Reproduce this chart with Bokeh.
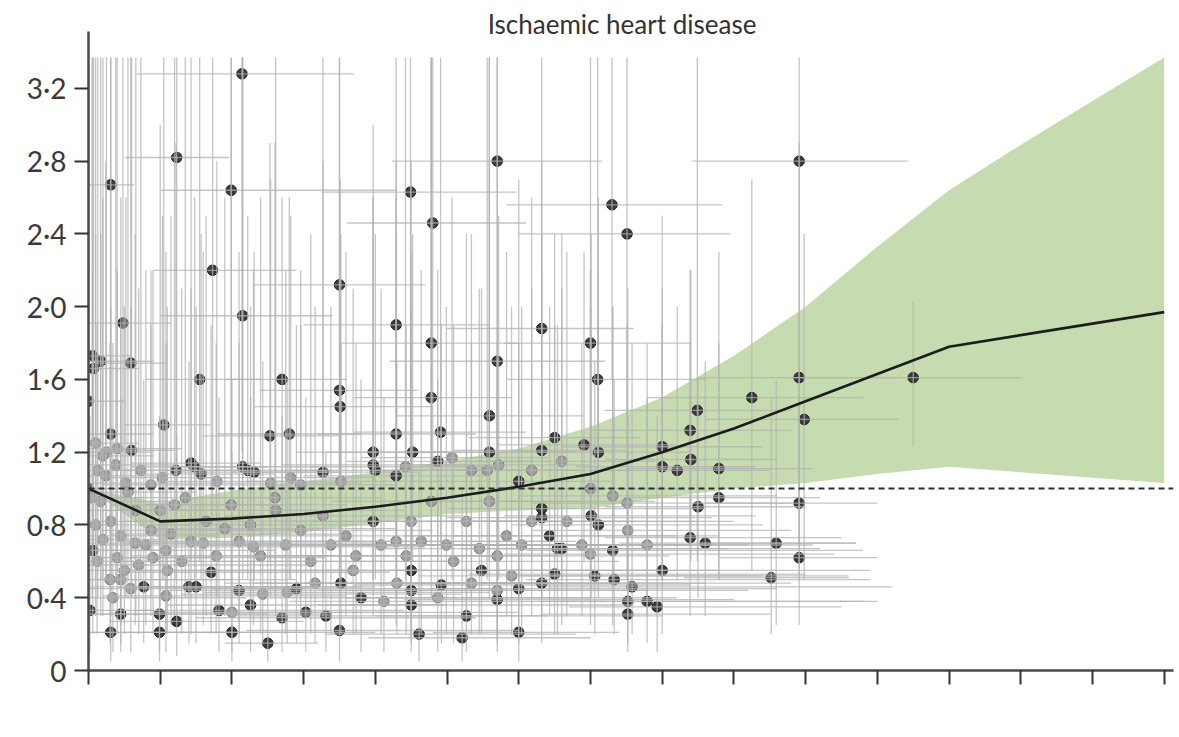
from bokeh.plotting import figure
from bokeh.models import Range1d, FixedTicker, CustomJSTickFormatter, Span, ColumnDataSource, Label
from bokeh.embed import file_html
from bokeh.resources import INLINE

TITLE = "Ischaemic heart disease"
X_TICKS = list(range(0, 16))
Y_TICKS = [0, 0.4, 0.8, 1.2, 1.6, 2.0, 2.4, 2.8, 3.2]

# pooled dose-response curve and uncertainty interval
curve_x = [0, 1, 2, 3, 4, 5, 6, 7, 8, 9, 10, 11, 12, 15]
curve_rr = [1.0, 0.82, 0.835, 0.86, 0.90, 0.95, 1.01, 1.08, 1.20, 1.33, 1.48, 1.63, 1.78, 1.97]
band_x = [0, 1, 2, 3, 4, 5, 6, 7, 8, 9, 10, 11, 12, 13, 14, 15]
band_upper = [1.0, 0.92, 0.99, 1.04, 1.09, 1.15, 1.22, 1.34, 1.50, 1.73, 2.00, 2.33, 2.64, 2.89, 3.13, 3.37]
band_lower = [1.0, 0.72, 0.73, 0.76, 0.81, 0.86, 0.88, 0.89, 0.95, 1.00, 1.03, 1.08, 1.12, 1.09, 1.06, 1.03]

# study estimates - upper group (dark)
up_x = [2.14, 1.23, 0.31, 1.99, 4.49, 5.70, 9.91, 4.80, 7.30, 7.51,
        1.73, 3.50, 2.15, 0.48, 4.29, 0.59, 4.78, 6.32, 7.00, 5.70,
        7.10, 1.55, 2.70, 9.91, 11.50, 9.25, 8.49, 9.98, 3.50, 3.51,
        4.78, 5.59, 8.39, 8.00, 0.06, 0.17, 0.00, 0.07, 1.05, 0.31,
        2.53, 2.80, 4.29, 4.91, 6.50, 6.91, 0.60, 6.32, 5.59, 3.97]
up_y = [3.28, 2.82, 2.67, 2.64, 2.63, 2.80, 2.80, 2.46, 2.56, 2.40,
        2.20, 2.12, 1.95, 1.91, 1.90, 1.69, 1.80, 1.88, 1.80, 1.70,
        1.60, 1.60, 1.60, 1.61, 1.61, 1.50, 1.43, 1.38, 1.54, 1.45,
        1.50, 1.40, 1.32, 1.23, 1.73, 1.70, 1.48, 1.66, 1.35, 1.30,
        1.29, 1.30, 1.30, 1.31, 1.28, 1.24, 1.21, 1.21, 1.20, 1.20]
up_xlo = [0.67, 0.51, 0.00, 1.01, 3.25, 4.23, 8.42, 3.60, 5.83, 6.00,
          0.90, 2.30, 1.00, 0.00, 3.00, 0.10, 3.50, 5.00, 5.80, 4.20,
          5.83, 0.80, 1.90, 8.50, 9.80, 7.80, 7.20, 8.60, 2.40, 2.30,
          3.70, 4.30, 7.00, 6.60, 0.00, 0.00, 0.00, 0.00, 0.50, 0.00,
          1.60, 1.80, 3.20, 3.70, 5.30, 5.70, 0.10, 5.10, 4.40, 2.90]
up_xhi = [3.70, 1.96, 0.64, 4.30, 5.97, 7.16, 11.42, 6.10, 8.84, 8.95,
          2.90, 4.70, 3.40, 1.15, 5.60, 1.10, 6.00, 7.60, 8.40, 7.20,
          8.60, 2.40, 3.60, 11.30, 13.00, 10.80, 9.80, 11.30, 4.60, 4.80,
          5.90, 6.90, 9.80, 9.40, 0.60, 0.90, 0.50, 0.70, 1.70, 0.90,
          3.50, 3.80, 5.40, 6.10, 7.70, 8.20, 1.20, 7.50, 6.80, 5.00]
up_ylo = [1.20, 0.90, 0.60, 1.00, 1.20, 1.30, 1.60, 1.10, 1.60, 1.40,
          0.80, 0.90, 0.85, 0.50, 0.80, 0.60, 0.90, 1.00, 1.10, 0.90,
          0.90, 0.60, 0.70, 0.70, 1.23, 0.55, 0.60, 0.50, 0.50, 0.60,
          0.70, 0.60, 0.70, 0.50, 0.60, 0.50, 0.50, 0.70, 0.50, 0.50,
          0.60, 0.50, 0.60, 0.70, 0.60, 0.60, 0.40, 0.50, 0.60, 0.50]
up_yhi = [3.37, 3.37, 3.37, 3.37, 3.37, 3.37, 3.37, 3.37, 3.37, 3.37,
          3.37, 3.37, 3.37, 3.37, 3.37, 3.37, 3.37, 3.37, 3.37, 3.37,
          3.37, 3.37, 2.60, 2.90, 2.03, 2.70, 3.37, 2.40, 3.37, 2.70,
          3.37, 3.37, 2.20, 2.50, 3.37, 3.37, 3.37, 3.37, 3.37, 3.37,
          2.90, 2.60, 2.80, 3.37, 2.40, 2.30, 3.37, 2.80, 3.37, 2.60]
up_dark = [1] * 50

# middle group
mid_x = [0.00, 0.13, 0.24, 0.38, 0.52, 0.73, 0.87, 1.03, 1.22, 1.43,
         1.48, 1.57, 1.79, 2.15, 2.22, 2.31, 2.54, 2.82, 2.96, 3.27,
         3.52, 3.97, 4.00, 4.29, 4.42, 4.52, 4.87, 5.07, 5.34, 5.56,
         5.72, 6.00, 6.18, 6.60, 7.11, 8.00, 8.21, 8.40, 8.79, 7.00]
mid_y = [1.00, 1.10, 1.07, 1.13, 1.03, 1.10, 1.02, 1.06, 1.10, 1.14,
         1.12, 1.08, 1.04, 1.12, 1.10, 1.09, 1.03, 1.06, 1.02, 1.09,
         1.04, 1.13, 1.10, 1.07, 1.12, 1.20, 1.15, 1.17, 1.10, 1.10,
         1.13, 1.04, 1.10, 1.15, 1.20, 1.12, 1.10, 1.16, 1.11, 1.00]
mid_xlo = [0.00, 0.00, 0.00, 0.00, 0.00, 0.10, 0.20, 0.30, 0.40, 0.60,
           0.60, 0.70, 0.80, 1.10, 1.20, 1.20, 1.40, 1.60, 1.70, 2.00,
           2.20, 2.70, 2.80, 3.00, 3.10, 3.30, 3.60, 3.80, 4.00, 4.30,
           4.40, 4.80, 4.90, 5.40, 5.90, 6.80, 7.00, 7.20, 7.50, 5.70]
mid_xhi = [0.40, 0.80, 1.00, 1.20, 1.40, 1.60, 1.80, 2.00, 2.20, 2.40,
           2.50, 2.60, 2.90, 3.20, 3.40, 3.50, 3.80, 4.00, 4.30, 4.60,
           4.90, 5.30, 5.30, 5.60, 5.80, 5.80, 6.20, 6.40, 6.70, 6.90,
           7.00, 7.30, 7.50, 7.90, 8.40, 9.30, 9.50, 9.60, 10.10, 8.30]
mid_ylo = [0.40, 0.40, 0.50, 0.50, 0.40, 0.50, 0.40, 0.50, 0.50, 0.60,
           0.50, 0.50, 0.40, 0.50, 0.50, 0.50, 0.40, 0.50, 0.40, 0.40,
           0.50, 0.50, 0.50, 0.40, 0.50, 0.60, 0.60, 0.50, 0.40, 0.50,
           0.50, 0.40, 0.60, 0.50, 0.60, 0.50, 0.50, 0.60, 0.50, 0.50]
mid_yhi = [3.37, 3.37, 2.80, 3.37, 2.60, 3.37, 2.20, 2.50, 2.90, 3.37,
           2.60, 2.40, 2.80, 3.37, 2.50, 2.30, 2.70, 2.50, 2.20, 3.37,
           2.40, 3.00, 2.40, 2.60, 3.37, 2.40, 2.20, 2.60, 2.40, 3.37,
           2.50, 2.70, 2.10, 2.40, 2.60, 2.10, 2.00, 2.20, 2.30, 2.00]
mid_dark = [1, 0, 0, 0, 0, 0, 0, 0, 1, 1,
            1, 1, 0, 1, 1, 1, 0, 0, 0, 1,
            0, 1, 1, 1, 0, 1, 1, 0, 0, 0,
            0, 1, 0, 0, 1, 1, 1, 1, 1, 0]

# lower-middle group
low_x = [0.17, 0.31, 0.45, 0.66, 0.80, 0.87, 1.08, 1.20, 1.43, 1.64,
         1.78, 1.99, 2.10, 2.26, 2.40, 2.61, 2.75, 2.96, 3.10, 3.27,
         3.38, 3.59, 3.73, 3.97, 4.08, 4.29, 4.43, 4.50, 4.64, 4.78,
         4.99, 5.09, 5.27, 5.45, 5.59, 5.70, 5.83, 6.04, 6.18, 6.32,
         6.32, 6.43, 6.54, 6.67, 6.88, 7.01, 7.11, 7.31, 7.51, 7.52,
         7.79, 8.50, 8.79, 9.91]
low_y = [0.93, 0.82, 0.74, 0.88, 0.69, 0.77, 0.66, 0.91, 0.71, 0.82,
         0.63, 0.91, 0.71, 0.80, 0.63, 0.88, 0.69, 0.77, 0.60, 0.85,
         0.69, 0.74, 0.63, 0.82, 0.69, 0.71, 0.63, 0.82, 0.71, 0.93,
         0.69, 0.60, 0.82, 0.67, 0.93, 0.63, 0.74, 0.69, 0.82, 0.89,
         0.84, 0.74, 0.67, 0.82, 0.69, 0.85, 0.80, 0.96, 0.92, 0.77,
         0.69, 0.90, 0.95, 0.92]
low_xlo = [0.00, 0.00, 0.00, 0.00, 0.10, 0.10, 0.20, 0.30, 0.40, 0.50,
           0.60, 0.80, 0.90, 1.00, 1.10, 1.30, 1.40, 1.60, 1.70, 1.90,
           2.00, 2.20, 2.30, 2.60, 2.70, 2.90, 3.00, 3.10, 3.20, 3.40,
           3.60, 3.70, 3.90, 4.00, 4.20, 4.30, 4.40, 4.60, 4.80, 5.00,
           5.00, 5.10, 5.20, 5.40, 5.60, 5.80, 5.90, 6.00, 6.20, 6.20,
           6.50, 7.20, 7.50, 8.60]
low_xhi = [1.20, 1.50, 1.80, 2.00, 2.20, 2.40, 2.60, 2.70, 3.00, 3.20,
           3.40, 3.60, 3.80, 4.00, 4.20, 4.40, 4.60, 4.80, 5.00, 5.20,
           5.40, 5.60, 5.80, 6.00, 6.20, 6.40, 6.60, 6.70, 6.80, 6.90,
           7.20, 7.40, 7.50, 7.80, 7.90, 8.10, 8.20, 8.40, 8.50, 8.60,
           8.70, 8.80, 8.90, 9.00, 9.20, 9.30, 9.40, 9.60, 9.80, 9.80,
           10.10, 10.00, 10.20, 11.00]
low_ylo = [0.30, 0.30, 0.25, 0.30, 0.25, 0.30, 0.20, 0.30, 0.20, 0.30,
           0.20, 0.30, 0.20, 0.30, 0.20, 0.30, 0.20, 0.30, 0.20, 0.30,
           0.20, 0.30, 0.20, 0.30, 0.20, 0.25, 0.20, 0.30, 0.20, 0.40,
           0.20, 0.15, 0.30, 0.20, 0.40, 0.20, 0.30, 0.20, 0.30, 0.40,
           0.30, 0.30, 0.20, 0.30, 0.30, 0.40, 0.40, 0.50, 0.50, 0.30,
           0.30, 0.40, 0.50, 0.50]
low_yhi = [2.40, 2.00, 2.60, 3.37, 2.20, 1.90, 2.30, 3.37, 2.10, 2.50,
           1.80, 3.37, 2.30, 2.00, 2.60, 3.37, 2.20, 1.90, 2.40, 2.80,
           2.00, 2.30, 1.80, 2.60, 2.10, 2.40, 1.90, 2.80, 2.20, 3.37,
           2.00, 1.90, 2.40, 2.10, 2.80, 1.80, 2.30, 2.00, 2.60, 2.40,
           2.20, 2.00, 1.90, 2.30, 1.80, 2.40, 2.20, 2.00, 1.90, 2.10,
           1.80, 1.60, 1.80, 1.60]
low_dark = [0, 0, 0, 0, 0, 0, 0, 0, 0, 0,
            0, 0, 0, 0, 0, 0, 0, 0, 0, 0,
            0, 0, 0, 1, 0, 0, 0, 0, 0, 0,
            0, 0, 0, 0, 0, 0, 0, 0, 0, 1,
            1, 1, 1, 0, 0, 1, 1, 0, 0, 0,
            0, 1, 1, 1]

# dense cluster near zero consumption
near_x = [0.05, 0.10, 0.12, 0.20, 0.25, 0.30, 0.40, 0.50, 0.55, 0.65,
          0.70, 0.90, 1.00, 1.15, 1.30, 1.35, 1.60, 1.90, 2.30, 2.60,
          0.10, 0.20, 0.40, 0.45, 1.10]
near_y = [0.95, 0.80, 0.60, 0.72, 1.20, 0.50, 0.62, 0.55, 0.98, 0.70,
          0.58, 0.62, 0.88, 0.75, 0.60, 0.95, 0.70, 0.78, 0.68, 0.95,
          1.25, 1.18, 1.22, 0.50, 0.55]
near_xlo = [0.00, 0.00, 0.00, 0.00, 0.00, 0.00, 0.00, 0.00, 0.00, 0.00,
            0.00, 0.10, 0.20, 0.30, 0.40, 0.40, 0.60, 0.80, 1.00, 1.30,
            0.00, 0.00, 0.00, 0.00, 0.20]
near_xhi = [0.80, 1.40, 1.60, 1.10, 0.90, 2.00, 1.90, 2.60, 1.50, 2.80,
            3.10, 3.30, 2.20, 3.50, 3.80, 2.60, 4.00, 4.30, 4.70, 4.10,
            0.70, 0.90, 1.30, 2.90, 3.60]
near_ylo = [0.40, 0.30, 0.20, 0.30, 0.50, 0.15, 0.20, 0.20, 0.40, 0.25,
            0.20, 0.20, 0.35, 0.25, 0.20, 0.40, 0.25, 0.30, 0.25, 0.40,
            0.50, 0.50, 0.50, 0.15, 0.20]
near_yhi = [3.37, 2.40, 1.90, 2.60, 3.37, 1.80, 2.20, 2.00, 3.37, 2.40,
            2.10, 2.20, 3.00, 2.50, 2.10, 3.37, 2.30, 2.60, 2.20, 2.90,
            3.37, 3.37, 3.37, 1.90, 2.00]
near_dark = [0, 0, 0, 0, 0, 0, 0, 0, 0, 0,
             0, 0, 0, 0, 0, 0, 0, 0, 0, 0,
             0, 0, 0, 0, 0]

# bottom group
bot_x = [0.02, 0.06, 0.31, 0.45, 0.34, 0.59, 0.77, 0.99, 0.99, 1.23,
         1.08, 1.40, 1.50, 1.71, 1.82, 2.00, 2.00, 2.10, 2.26, 2.43,
         2.50, 2.70, 2.77, 2.90, 3.03, 3.16, 3.31, 3.50, 3.52, 3.69,
         3.80, 4.12, 4.30, 4.50, 4.50, 4.50, 4.61, 4.87, 4.92, 5.21,
         5.27, 5.34, 5.48, 5.70, 5.70, 5.90, 6.00, 6.00, 6.32, 6.50,
         6.60, 7.00, 7.06, 7.31, 7.33, 7.52, 7.52, 7.58, 7.79, 7.93,
         8.00, 8.39, 8.60, 9.59, 9.52, 9.91]
bot_y = [0.33, 0.66, 0.21, 0.31, 0.40, 0.45, 0.46, 0.21, 0.31, 0.27,
         0.41, 0.46, 0.46, 0.54, 0.33, 0.21, 0.32, 0.44, 0.36, 0.42,
         0.15, 0.29, 0.43, 0.45, 0.32, 0.48, 0.30, 0.22, 0.48, 0.55,
         0.40, 0.38, 0.48, 0.36, 0.44, 0.55, 0.20, 0.40, 0.47, 0.18,
         0.30, 0.48, 0.55, 0.39, 0.44, 0.52, 0.21, 0.45, 0.48, 0.53,
         0.67, 0.64, 0.52, 0.66, 0.50, 0.38, 0.31, 0.46, 0.38, 0.35,
         0.55, 0.73, 0.70, 0.70, 0.51, 0.62]
bot_xlo = [0.00, 0.00, 0.00, 0.00, 0.00, 0.00, 0.00, 0.00, 0.10, 0.30,
           0.20, 0.40, 0.50, 0.60, 0.70, 0.80, 0.90, 1.00, 1.10, 1.30,
           1.90, 1.50, 1.60, 1.70, 1.80, 1.90, 2.00, 2.20, 2.30, 2.40,
           2.50, 2.80, 3.00, 3.20, 3.20, 3.30, 3.30, 3.60, 3.70, 3.90,
           4.00, 4.10, 4.20, 4.40, 4.40, 4.60, 4.80, 4.80, 5.10, 5.30,
           5.40, 5.80, 5.90, 6.10, 6.10, 6.30, 6.30, 6.40, 6.60, 6.70,
           6.80, 7.20, 7.40, 8.50, 8.30, 8.80]
bot_xhi = [1.00, 1.20, 2.00, 2.50, 2.20, 3.00, 3.20, 3.00, 3.40, 3.00,
           3.60, 3.80, 4.00, 4.20, 4.40, 4.00, 4.60, 4.80, 5.00, 5.20,
           3.20, 5.40, 5.60, 5.80, 6.00, 6.20, 6.40, 6.00, 6.60, 6.80,
           7.00, 7.20, 7.40, 7.60, 7.80, 8.00, 6.80, 8.20, 8.40, 7.00,
           8.00, 8.60, 8.80, 9.00, 9.20, 9.40, 7.40, 9.60, 9.80, 10.00,
           10.20, 10.40, 10.60, 10.80, 10.90, 11.00, 9.50, 11.20, 10.80, 10.50,
           10.90, 10.50, 10.70, 10.70, 10.60, 11.00]
bot_ylo = [0.10, 0.20, 0.05, 0.10, 0.10, 0.10, 0.15, 0.05, 0.10, 0.08,
           0.10, 0.15, 0.15, 0.20, 0.10, 0.05, 0.10, 0.15, 0.10, 0.15,
           0.05, 0.10, 0.15, 0.15, 0.10, 0.15, 0.10, 0.05, 0.20, 0.20,
           0.10, 0.10, 0.20, 0.10, 0.15, 0.20, 0.05, 0.10, 0.15, 0.05,
           0.10, 0.20, 0.20, 0.10, 0.15, 0.20, 0.05, 0.15, 0.15, 0.20,
           0.25, 0.25, 0.20, 0.25, 0.20, 0.15, 0.10, 0.20, 0.15, 0.10,
           0.20, 0.30, 0.30, 0.25, 0.20, 0.25]
bot_yhi = [1.40, 2.20, 1.00, 1.50, 1.80, 2.00, 1.60, 1.20, 1.40, 1.30,
           1.80, 1.70, 2.00, 1.90, 1.50, 1.20, 1.60, 1.80, 1.50, 1.70,
           0.70, 1.40, 1.60, 1.90, 1.50, 2.00, 1.20, 1.30, 1.80, 2.10,
           1.60, 1.50, 1.70, 1.40, 2.00, 2.30, 1.10, 1.60, 1.90, 1.00,
           1.30, 1.80, 2.10, 1.50, 1.70, 2.00, 1.10, 1.80, 1.60, 1.90,
           2.10, 2.20, 1.70, 2.00, 1.60, 1.40, 1.20, 1.80, 1.50, 1.40,
           1.90, 1.80, 1.70, 1.60, 1.50, 1.50]
bot_dark = [1, 1, 1, 1, 0, 0, 1, 1, 1, 1,
            0, 1, 1, 1, 1, 1, 0, 1, 1, 0,
            1, 1, 0, 1, 1, 0, 1, 1, 1, 0,
            1, 0, 0, 1, 1, 1, 1, 0, 1, 1,
            1, 0, 1, 1, 0, 0, 1, 1, 1, 1,
            1, 0, 1, 1, 1, 1, 1, 1, 1, 1,
            1, 1, 1, 1, 1, 1]

# ---- assemble table ----
xs = up_x + mid_x + low_x + near_x + bot_x
ys = up_y + mid_y + low_y + near_y + bot_y
xlo = up_xlo + mid_xlo + low_xlo + near_xlo + bot_xlo
xhi = up_xhi + mid_xhi + low_xhi + near_xhi + bot_xhi
ylo = up_ylo + mid_ylo + low_ylo + near_ylo + bot_ylo
yhi = up_yhi + mid_yhi + low_yhi + near_yhi + bot_yhi
dark = up_dark + mid_dark + low_dark + near_dark + bot_dark
fill = ["#3b3b3b" if d else "#9c9c9c" for d in dark]
outline = ["#1f1f1f" if d else "#787878" for d in dark]
src = ColumnDataSource(dict(x=xs, y=ys, xlo=xlo, xhi=xhi, ylo=ylo, yhi=yhi, fill=fill, outline=outline))

FONT = "Lato"

# frame reaches nearly to the top of the page so the title can sit inside it;
# the y axis line itself is bounded to 0-3.51
p = figure(width=1179, height=737, output_backend="svg", toolbar_location=None,
           x_range=Range1d(0, 15.13), y_range=Range1d(0, 3.661),
           min_border_left=88, min_border_right=6, min_border_top=4, min_border_bottom=67)
p.outline_line_color = None
p.grid.visible = False
p.background_fill_color = "white"

# band
p.varea(x=band_x, y1=band_lower, y2=band_upper, fill_color="#c6dcb0", fill_alpha=1.0)

# points
p.scatter("x", "y", source=src, marker="circle", size=10.5, fill_color="fill", line_color="outline", line_width=1)

# error bars over points
p.segment(x0="xlo", y0="y", x1="xhi", y1="y", source=src, line_color="#b2b2b2", line_width=1.3, line_alpha=0.75)
p.segment(x0="x", y0="ylo", x1="x", y1="yhi", source=src, line_color="#b2b2b2", line_width=1.3, line_alpha=0.75)

# reference line and curve
p.add_layout(Span(location=1.0, dimension="width", line_color="#2e2e2e", line_width=2, line_dash="6 4"))
p.line(curve_x, curve_rr, line_color="#1c1c1c", line_width=2.6)

# title
p.add_layout(Label(x=7.44, y=3.556, text=TITLE, text_align="center", text_baseline="middle",
                   text_font=FONT, text_font_size="26px", text_color="#333333"))

# axes
for ax in (p.xaxis[0], p.yaxis[0]):
    ax.axis_line_color = "#4a4a4a"
    ax.axis_line_width = 2.5
    ax.major_tick_line_color = "#333333"
    ax.major_tick_line_width = 2
    ax.major_tick_out = 14
    ax.major_tick_in = 0
    ax.minor_tick_line_color = None
    ax.major_label_text_font = FONT
    ax.major_label_text_color = "#3a3a3a"

p.yaxis.bounds = (0, 3.51)
p.xaxis.ticker = FixedTicker(ticks=X_TICKS)
p.xaxis.formatter = CustomJSTickFormatter(code="return '';")
p.yaxis.ticker = FixedTicker(ticks=Y_TICKS)
p.yaxis.formatter = CustomJSTickFormatter(code="return tick === 0 ? '0' : tick.toFixed(1).replace('.', '\u00b7');")
p.yaxis.major_label_text_font_size = "28px"
p.yaxis.major_label_standoff = 8

open("out.html", "w").write(file_html(p, INLINE))
